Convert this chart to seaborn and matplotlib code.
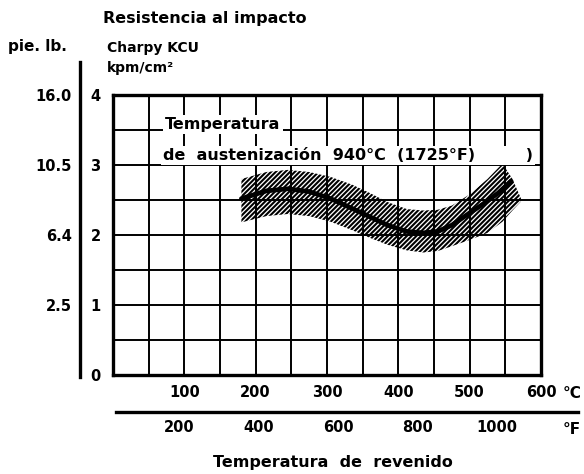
import matplotlib
matplotlib.use("Agg")
import matplotlib.pyplot as plt
import seaborn as sns
import pandas as pd

# curve (temperature in C, impact in kpm/cm2)
temp_c = [180, 215, 245, 275, 305, 335, 360, 385, 412, 435, 455, 475, 495, 520, 540, 558]
impact = [2.52, 2.63, 2.66, 2.62, 2.52, 2.38, 2.26, 2.14, 2.05, 2.03, 2.05, 2.14, 2.28, 2.45, 2.60, 2.77]

# scatter band
band_c = [180, 215, 245, 275, 305, 335, 360, 385, 412, 435, 455, 475, 500, 525, 546, 560, 572]
band_hi = [2.80, 2.90, 2.93, 2.90, 2.83, 2.72, 2.60, 2.47, 2.37, 2.35, 2.36, 2.42, 2.58, 2.80, 3.02, 2.80, 2.52]
band_lo = [2.18, 2.27, 2.30, 2.27, 2.19, 2.07, 1.96, 1.86, 1.78, 1.75, 1.77, 1.84, 1.93, 2.03, 2.19, 2.35, 2.48]

c_ticks = [100, 200, 300, 400, 500, 600]
f_ticks = [200, 400, 600, 800, 1000]
kpm_ticks = [0, 1, 2, 3, 4]
ftlb_ticks = [1, 2, 3, 4]
ftlb_labels = ["2.5", "6.4", "10.5", "16.0"]

sns.set_theme(style="white")
plt.rcParams["font.family"] = ["DejaVu Sans"]
plt.rcParams["font.weight"] = "bold"
plt.rcParams["text.color"] = "black"
plt.rcParams["hatch.linewidth"] = 1.5

W, H = 584, 474
fig = plt.figure(figsize=(W / 100, H / 100), dpi=100)

def frac(x0, y0, x1, y1):
    return [x0 / W, 1 - y1 / H, (x1 - x0) / W, (y1 - y0) / H]

ax = fig.add_axes(frac(113, 95, 541, 375))
df = pd.DataFrame({"temp": temp_c, "kcu": impact})

ax.fill_between(band_c, band_lo, band_hi, facecolor="none", edgecolor="black",
                hatch="///////", linewidth=0, zorder=3)
sns.lineplot(data=df, x="temp", y="kcu", color="black", linewidth=3.4, ax=ax, zorder=4)

ax.set_xlim(0, 600)
ax.set_ylim(0, 4)
ax.set_xticks(c_ticks)
ax.set_xticks([50 * i for i in range(1, 12)], minor=True)
ax.set_yticks(kpm_ticks)
ax.set_yticks([0.5, 1.5, 2.5, 3.5], minor=True)
ax.grid(True, which="both", color="black", linewidth=1.4)
ax.tick_params(axis="both", which="major", direction="out", length=4, width=1.5,
               labelsize=10.5, colors="black", pad=3)
ax.tick_params(axis="both", which="minor", length=0)
ax.tick_params(axis="y", pad=5)
for lab in ax.get_xticklabels() + ax.get_yticklabels():
    lab.set_fontweight("bold")
for s in ax.spines.values():
    s.set_color("black")
    s.set_linewidth(2.4)
ax.set_xlabel("")
ax.set_ylabel("")

ax.text(0.122, 0.895, "Temperatura", transform=ax.transAxes, fontsize=11.5,
        fontweight="bold", va="center", ha="left", zorder=5,
        bbox=dict(facecolor="white", edgecolor="none", pad=1.5))
ax.text(0.117, 0.785, "de  austenización  940°C  (1725°F)         )", transform=ax.transAxes,
        fontsize=11.5, fontweight="bold", va="center", ha="left", zorder=5,
        bbox=dict(facecolor="white", edgecolor="none", pad=1.5))

# left ft-lb scale
axl = fig.add_axes(frac(80, 62, 80.01, 377))
axl.set_ylim((375 - 377) / 70, (375 - 62) / 70)
axl.set_xticks([])
axl.set_yticks(ftlb_ticks)
axl.set_yticklabels(ftlb_labels, fontweight="bold")
for k in ["top", "right", "bottom"]:
    axl.spines[k].set_visible(False)
axl.spines["left"].set_linewidth(2.4)
axl.spines["left"].set_color("black")
axl.tick_params(axis="y", direction="out", length=5, width=1.5, labelsize=10.5,
                colors="black", pad=1)
axl.patch.set_alpha(0)

# bottom Fahrenheit scale
axf = fig.add_axes(frac(116, 412, 578, 412.01))
x_left_c = (116 - 113) / 428 * 600
x_right_c = (578 - 113) / 428 * 600
axf.set_xlim(x_left_c * 1.8 + 32, x_right_c * 1.8 + 32)
axf.set_yticks([])
axf.set_xticks(f_ticks)
axf.set_xticklabels([str(v) for v in f_ticks], fontweight="bold")
for k in ["top", "right", "left"]:
    axf.spines[k].set_visible(False)
axf.spines["bottom"].set_linewidth(2.4)
axf.spines["bottom"].set_color("black")
axf.tick_params(axis="x", direction="inout", length=5, width=1.5, labelsize=10.5,
                colors="black", pad=3)
axf.patch.set_alpha(0)

fig.text(572 / W, 1 - 393 / H, "°C", fontsize=11, fontweight="bold", va="center", ha="center")
fig.text(572 / W, 1 - 429 / H, "°F", fontsize=11, fontweight="bold", va="center", ha="center")
fig.text(333 / W, 1 - 462 / H, "Temperatura  de  revenido", fontsize=11.5,
         fontweight="bold", va="center", ha="center")

fig.text(103 / W, 1 - 19 / H, "Resistencia al impacto", fontsize=11.5,
         fontweight="bold", va="center", ha="left")
fig.text(8 / W, 1 - 46 / H, "pie. lb.", fontsize=11, fontweight="bold", va="center", ha="left")
fig.text(107 / W, 1 - 48 / H, "Charpy KCU", fontsize=10, fontweight="bold", va="center", ha="left")
fig.text(107 / W, 1 - 68 / H, "kpm/cm²", fontsize=10, fontweight="bold", va="center", ha="left")

fig.savefig("out.png", dpi=100, facecolor="white")
